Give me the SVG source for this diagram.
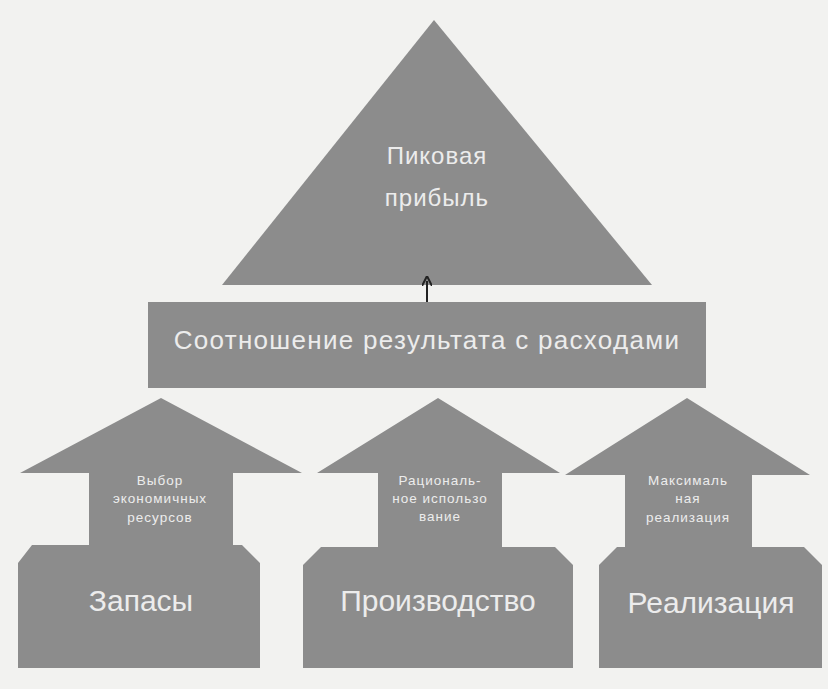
<svg xmlns="http://www.w3.org/2000/svg" width="828" height="689" viewBox="0 0 828 689">
<style>
.shape{fill:#8c8c8c;stroke:none}
.t{fill:#ececec;font-family:"Liberation Sans","DejaVu Sans",sans-serif;text-anchor:middle}
.big{font-size:30px}
.mid{font-size:24px;letter-spacing:1px}
.sm{font-size:13.5px;letter-spacing:1px}
.conn{stroke:#222;stroke-width:2;fill:none}
</style>
<defs>
<marker id="ah" markerWidth="10" markerHeight="10" refX="5" refY="5" orient="auto" markerUnits="userSpaceOnUse">
<path d="M0,0 L10,5 L0,10" fill="none" stroke="#222" stroke-width="2"/>
</marker>
</defs>
<rect x="0" y="0" width="828" height="689" fill="#f2f2f0"/>
<g id="peak">
<polygon class="shape" points="434,20 652,285 222,285"/>
<text class="t mid" x="437" y="164">Пиковая</text>
<text class="t mid" x="437" y="206">прибыль</text>
</g>
<g id="ratio">
<rect class="shape" x="148" y="302" width="558" height="86"/>
<text class="t" x="427" y="349" font-size="26" letter-spacing="1.3">Соотношение результата с расходами</text>
</g>
<g id="stock">
<polygon class="shape" points="161,398 302,473 233,473 233,545 242,545 260,563 260,668 18,668 18,563 32,545 89,545 89,473 20,473"/>
<text class="t sm" x="160" y="485">Выбор</text>
<text class="t sm" x="160" y="503">экономичных</text>
<text class="t sm" x="160" y="522">ресурсов</text>
<text class="t big" x="141" y="611">Запасы</text>
</g>
<g id="production">
<polygon class="shape" points="438,398 560,473 502,473 502,547 555,547 573,565 573,668 303,668 303,565 321,547 378,547 378,473 317,473"/>
<text class="t sm" x="440" y="485">Рациональ-</text>
<text class="t sm" x="440" y="503">ное использо</text>
<text class="t sm" x="440" y="521">вание</text>
<text class="t big" x="438" y="611">Производство</text>
</g>
<g id="sales">
<polygon class="shape" points="687,398 810,475 752,475 752,547 804,547 822,565 822,668 599,668 599,565 617,547 625,547 625,475 565,475"/>
<text class="t sm" x="688" y="485">Максималь</text>
<text class="t sm" x="688" y="503">ная</text>
<text class="t sm" x="688" y="522">реализация</text>
<text class="t big" x="711" y="613">Реализация</text>
</g>
<g id="connectors">
<line class="conn" x1="427" y1="302" x2="427" y2="281" marker-end="url(#ah)"/>
</g>
</svg>
